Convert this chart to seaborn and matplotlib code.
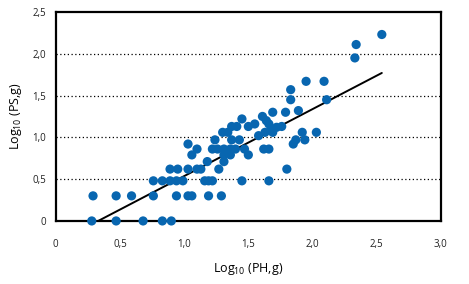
import matplotlib
matplotlib.use("Agg")
import matplotlib.pyplot as plt
import seaborn as sns
import pandas as pd
import numpy as np

# Data (log10 PH, log10 PS)
log_ph = [0.28, 0.47, 0.68, 0.83, 0.90,
          0.29, 0.47, 0.59, 0.76, 0.94, 1.03, 1.06, 1.19, 1.29,
          0.76, 0.83, 0.89, 0.94, 0.99, 1.16, 1.19, 1.22, 1.45, 1.66,
          0.89, 0.95, 1.03, 1.10, 1.13, 1.27, 1.80,
          1.18, 1.31,
          1.06, 1.31, 1.36, 1.50,
          1.10, 1.22, 1.26, 1.31, 1.36, 1.40, 1.47, 1.62, 1.66,
          1.03, 1.85,
          1.24, 1.37, 1.43, 1.87, 1.94,
          1.58,
          1.30, 1.34, 1.63, 1.69, 1.92, 2.03,
          1.37, 1.41, 1.50, 1.72, 1.76,
          1.55, 1.66, 1.68, 1.64, 1.45, 1.61,
          1.69, 1.79, 1.89,
          1.83, 2.11, 1.83, 1.95, 2.09,
          2.33, 2.34, 2.54]
log_ps = [0.0, 0.0, 0.0, 0.0, 0.0,
          0.30, 0.30, 0.30, 0.30, 0.30, 0.30, 0.30, 0.30, 0.30,
          0.48, 0.48, 0.48, 0.48, 0.48, 0.48, 0.48, 0.48, 0.48, 0.48,
          0.62, 0.62, 0.62, 0.62, 0.62, 0.62, 0.62,
          0.71, 0.71,
          0.79, 0.79, 0.79, 0.79,
          0.86, 0.86, 0.86, 0.86, 0.86, 0.86, 0.86, 0.86, 0.86,
          0.92, 0.92,
          0.97, 0.97, 0.97, 0.97, 0.97,
          1.02,
          1.06, 1.06, 1.06, 1.06, 1.06, 1.06,
          1.13, 1.13, 1.13, 1.12, 1.13,
          1.16, 1.16, 1.10, 1.20, 1.22, 1.25,
          1.30, 1.30, 1.32,
          1.45, 1.45, 1.57, 1.67, 1.67,
          1.95, 2.11, 2.23]

# Regression line
line_x = [0.33, 2.54]
line_y = [0.0, 1.77]

x_ticks = [0, 0.5, 1.0, 1.5, 2.0, 2.5, 3.0]
x_ticklabels = ["0", "0,5", "1,0", "1,5", "2,0", "2,5", "3,0"]
y_ticks = [0, 0.5, 1.0, 1.5, 2.0, 2.5]
y_ticklabels = ["0", "0,5", "1,0", "1,5", "2,0", "2,5"]

df = pd.DataFrame({"ph": log_ph, "ps": log_ps})
line_df = pd.DataFrame({"x": line_x, "y": line_y})

sns.set_theme(style="white")
plt.rcParams["font.family"] = ["Open Sans", "DejaVu Sans"]
plt.rcParams["mathtext.fontset"] = "custom"
plt.rcParams["mathtext.rm"] = "Open Sans"
plt.rcParams["mathtext.it"] = "Open Sans"

fig = plt.figure(figsize=(4.69, 2.84), dpi=100)
ax = fig.add_axes([0.119, 0.222, 0.821, 0.736])

for yv in [0.5, 1.0, 1.5, 2.0]:
    ax.axhline(yv, color="black", linestyle=(0, (1, 2)), linewidth=0.9, zorder=0)

sns.lineplot(data=line_df, x="x", y="y", color="black", linewidth=1.4, ax=ax, zorder=3)
sns.scatterplot(data=df, x="ph", y="ps", color="#0866b0", s=44, edgecolor="none",
                ax=ax, zorder=4, clip_on=False)

ax.set_xlim(0, 3.0)
ax.set_ylim(0, 2.5)
ax.set_xticks(x_ticks)
ax.set_xticklabels(x_ticklabels)
ax.set_yticks(y_ticks)
ax.set_yticklabels(y_ticklabels)
ax.tick_params(axis="x", length=0, pad=13, labelsize=7, colors="#222222")
ax.tick_params(axis="y", length=0, pad=7, labelsize=7, colors="#222222")

for side in ["left", "bottom", "top", "right"]:
    ax.spines[side].set_visible(True)
    ax.spines[side].set_color("black")
    ax.spines[side].set_linewidth(1.6)

ax.set_xlabel("Log$_{10}$ (PH,g)", fontsize=9, labelpad=8, color="black")
ax.set_ylabel("Log$_{10}$ (PS,g)", fontsize=9, labelpad=6, color="black")

fig.savefig("out.png", dpi=100)
